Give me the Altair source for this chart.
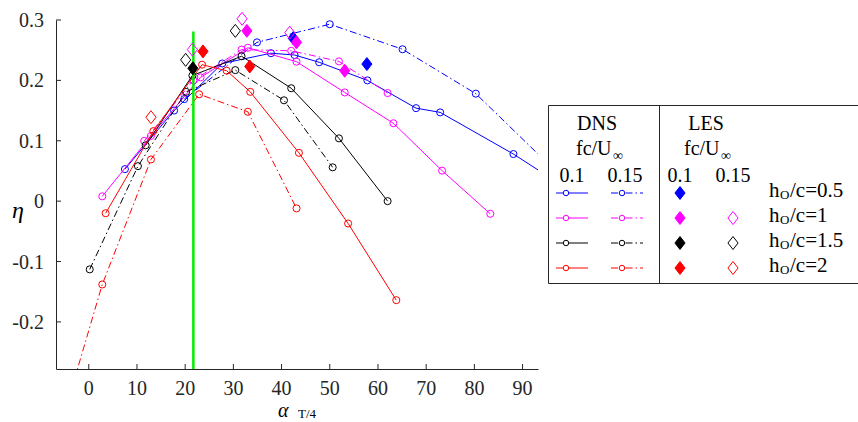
import altair as alt
import pandas as pd

FONT = "Liberation Serif"
INK = "#262626"

# Axis ranges and tick labels
X_DOMAIN = [-6.8, 93.2]
Y_DOMAIN = [-0.278, 0.3]
X_TICKS = [0, 10, 20, 30, 40, 50, 60, 70, 80, 90]
X_TICK_LABELS = ["0", "10", "20", "30", "40", "50", "60", "70", "80", "90"]
Y_TICKS = [-0.2, -0.1, 0.0, 0.1, 0.2, 0.3]
Y_TICK_LABELS = ["-0.2", "-0.1", "0", "0.1", "0.2", "0.3"]

# Reference angle marked by the vertical line
ALPHA_REF = 21.7
ALPHA_REF_ETA = [-0.278, 0.281]

# DNS efficiency vs. alpha_T/4 ; fc/U = 0.1 (solid) and 0.15 (dash-dot)
dns_h05_f010_alpha = [7.5, 17.7, 27.7, 37.8, 42.7, 47.8, 57.8, 67.9, 72.9, 88.1, 98.0]
dns_h05_f010_eta = [0.053, 0.150, 0.228, 0.245, 0.242, 0.230, 0.200, 0.154, 0.147, 0.078, 0.027]
dns_h05_f015_alpha = [19.8, 34.9, 50.0, 65.1, 80.3, 95.4]
dns_h05_f015_eta = [0.169, 0.263, 0.293, 0.2515, 0.178, 0.061]

dns_h10_f010_alpha = [2.8, 12.9, 23.2, 33.0, 43.1, 53.1, 63.2, 73.3, 83.3]
dns_h10_f010_eta = [0.008, 0.108, 0.205, 0.254, 0.231, 0.180, 0.129, 0.0505, -0.021]
dns_h10_f015_alpha = [11.5, 21.7, 31.7, 42.0, 51.9, 62.0]
dns_h10_f015_eta = [0.0997, 0.200, 0.251, 0.249, 0.2315, 0.179]

dns_h15_f010_alpha = [11.8, 21.5, 31.7, 42.0, 51.9, 62.0]
dns_h15_f010_eta = [0.0925, 0.208, 0.240, 0.187, 0.104, 0.000]
dns_h15_f015_alpha = [0.2, 10.2, 20.2, 30.4, 40.5, 50.6]
dns_h15_f015_eta = [-0.113, 0.058, 0.181, 0.217, 0.167, 0.056]

dns_h20_f010_alpha = [3.5, 13.4, 23.5, 28.6, 33.5, 43.6, 53.8, 63.8]
dns_h20_f010_eta = [-0.020, 0.116, 0.226, 0.216, 0.181, 0.080, -0.037, -0.164]
dns_h20_f015_alpha = [-7.2, 2.8, 12.9, 22.9, 33.0, 43.1]
dns_h20_f015_eta = [-0.41, -0.138, 0.069, 0.177, 0.148, -0.012]

# LES points: fc/U = 0.1 (filled) and 0.15 (open)
les_h05_f010_alpha = [42.4, 57.7]
les_h05_f010_eta = [0.270, 0.227]
les_h10_f010_alpha = [32.8, 43.1, 53.1]
les_h10_f010_eta = [0.282, 0.263, 0.216]
les_h10_f015_alpha = [21.5, 31.8, 41.7]
les_h10_f015_eta = [0.251, 0.302, 0.279]
les_h15_f010_alpha = [21.6]
les_h15_f010_eta = [0.220]
les_h15_f015_alpha = [20.1, 30.4]
les_h15_f015_eta = [0.234, 0.282]
les_h20_f010_alpha = [23.7, 33.4]
les_h20_f010_eta = [0.248, 0.223]
les_h20_f015_alpha = [12.9]
les_h20_f015_eta = [0.139]

H_LABELS = ["0.5", "1", "1.5", "2"]
COLORS = ["#0000ff", "#ff00ff", "#000000", "#ff0000"]

DNS = [
    (dns_h05_f010_alpha, dns_h05_f010_eta, dns_h05_f015_alpha, dns_h05_f015_eta),
    (dns_h10_f010_alpha, dns_h10_f010_eta, dns_h10_f015_alpha, dns_h10_f015_eta),
    (dns_h15_f010_alpha, dns_h15_f010_eta, dns_h15_f015_alpha, dns_h15_f015_eta),
    (dns_h20_f010_alpha, dns_h20_f010_eta, dns_h20_f015_alpha, dns_h20_f015_eta),
]
LES = [
    (les_h05_f010_alpha, les_h05_f010_eta, [], []),
    (les_h10_f010_alpha, les_h10_f010_eta, les_h10_f015_alpha, les_h10_f015_eta),
    (les_h15_f010_alpha, les_h15_f010_eta, les_h15_f015_alpha, les_h15_f015_eta),
    (les_h20_f010_alpha, les_h20_f010_eta, les_h20_f015_alpha, les_h20_f015_eta),
]

W, H = 482, 349
DASHDOT = [7, 3, 1.5, 3]
DIAMOND = "M0,-1L0.78,0L0,1L-0.78,0Z"

# Axes: only the spines come from Vega; ticks and labels are drawn as layers
x_axis = alt.Axis(values=X_TICKS, ticks=False, labels=False, grid=False, title=None,
                  domainColor=INK, domainWidth=1)
y_axis = alt.Axis(values=Y_TICKS, ticks=False, labels=False, grid=False, title=None,
                  domainColor=INK, domainWidth=1)
x_scale = alt.Scale(domain=X_DOMAIN, nice=False, zero=False)
y_scale = alt.Scale(domain=Y_DOMAIN, nice=False, zero=False)


def X(field="alpha"):
    return alt.X(f"{field}:Q", scale=x_scale, axis=x_axis)


def Y(field="eta"):
    return alt.Y(f"{field}:Q", scale=y_scale, axis=y_axis)


def frame(a, e):
    return pd.DataFrame({"alpha": a, "eta": e})


layers = []

# DNS curves with open circle markers
for color, (a1, e1, a2, e2) in zip(COLORS, DNS):
    for a, e, dash in ((a1, e1, None), (a2, e2, DASHDOT)):
        df = frame(a, e)
        line_kw = dict(color=color, strokeWidth=1, clip=True)
        if dash:
            line_kw["strokeDash"] = dash
        layers.append(alt.Chart(df).mark_line(**line_kw).encode(x=X(), y=Y()))
        layers.append(
            alt.Chart(df).mark_point(shape="circle", filled=False, color=color,
                                     size=50, strokeWidth=1, opacity=1, clip=True)
            .encode(x=X(), y=Y())
        )

# Reference angle
layers.append(
    alt.Chart(pd.DataFrame({"alpha": [ALPHA_REF], "eta": [ALPHA_REF_ETA[0]], "eta2": [ALPHA_REF_ETA[1]]}))
    .mark_rule(color="#00ee00", strokeWidth=2.5)
    .encode(x=X(), y=Y(), y2="eta2:Q")
)

# LES diamonds
for color, (a1, e1, a2, e2) in zip(COLORS, LES):
    if a1:
        layers.append(
            alt.Chart(frame(a1, e1)).mark_point(shape=DIAMOND, filled=True, fill=color,
                                                stroke=color, strokeWidth=1, size=169, opacity=1)
            .encode(x=X(), y=Y())
        )
    if a2:
        layers.append(
            alt.Chart(frame(a2, e2)).mark_point(shape=DIAMOND, filled=False, color=color,
                                                strokeWidth=1, size=169, opacity=1)
            .encode(x=X(), y=Y())
        )

# Inward tick marks
x_ticks_df = pd.DataFrame({"alpha": X_TICKS, "label": X_TICK_LABELS})
y_ticks_df = pd.DataFrame({"eta": Y_TICKS, "label": Y_TICK_LABELS})
layers.append(
    alt.Chart(x_ticks_df).mark_rule(color=INK, strokeWidth=1)
    .encode(x=X(), y=alt.value(H), y2=alt.value(H - 5))
)
layers.append(
    alt.Chart(y_ticks_df).mark_rule(color=INK, strokeWidth=1)
    .encode(y=Y(), x=alt.value(0), x2=alt.value(5))
)

# Tick labels
layers.append(
    alt.Chart(x_ticks_df).mark_text(font=FONT, fontSize=20, color=INK, align="center",
                                    baseline="alphabetic")
    .encode(x=X(), y=alt.value(H + 25.5), text="label:N")
)
layers.append(
    alt.Chart(y_ticks_df).mark_text(font=FONT, fontSize=20, color=INK, align="right",
                                    baseline="middle", dy=1)
    .encode(y=Y(), x=alt.value(-12), text="label:N")
)

one = pd.DataFrame({"k": [0]})


def text(s, x, y, size=20, align="left", style="normal", color="#000000"):
    return alt.Chart(one).mark_text(
        text=s, font=FONT, fontSize=size, align=align, baseline="alphabetic",
        fontStyle=style, color=color,
    ).encode(x=alt.value(x), y=alt.value(y))


# Axis titles
layers.append(text("\u03b1", 222, 397, size=20, style="italic"))
layers.append(text("T/4", 242, 397.5, size=13))
layers.append(text("\u03b7", -38, 198, size=24, style="italic", align="center"))

# Legend frame
layers.append(
    alt.Chart(one).mark_rect(fill="white", stroke=INK, strokeWidth=1)
    .encode(x=alt.value(492.5), x2=alt.value(815), y=alt.value(85.5), y2=alt.value(263.5))
)
layers.append(
    alt.Chart(one).mark_rule(color=INK, strokeWidth=1)
    .encode(x=alt.value(603.5), y=alt.value(85.5), y2=alt.value(263.5))
)

# Legend headings
layers.append(text("DNS", 541, 110, align="center"))
layers.append(text("fc/U", 520, 135))
layers.append(text("\u221e", 557, 140, size=14))
layers.append(text("0.1", 516, 162, align="center"))
layers.append(text("0.15", 569, 162, align="center"))
layers.append(text("LES", 650, 110, align="center"))
layers.append(text("fc/U", 628, 135))
layers.append(text("\u221e", 665, 140, size=14))
layers.append(text("0.1", 624, 162, align="center"))
layers.append(text("0.15", 677, 162, align="center"))

# Legend rows
ROW_Y = [173, 198, 223, 248]
for i, (color, h) in enumerate(zip(COLORS, H_LABELS)):
    ry = ROW_Y[i]
    layers.append(
        alt.Chart(one).mark_rule(color=color, strokeWidth=1)
        .encode(x=alt.value(500), x2=alt.value(532), y=alt.value(ry))
    )
    layers.append(
        alt.Chart(one).mark_rule(color=color, strokeWidth=1, strokeDash=DASHDOT)
        .encode(x=alt.value(555), x2=alt.value(587), y=alt.value(ry))
    )
    for cx in (510, 566):
        layers.append(
            alt.Chart(one).mark_point(shape="circle", filled=True, fill="white", stroke=color,
                                      strokeWidth=1, size=30, opacity=1)
            .encode(x=alt.value(cx), y=alt.value(ry))
        )
    layers.append(
        alt.Chart(one).mark_point(shape=DIAMOND, filled=True, fill=color, stroke=color,
                                  strokeWidth=1, size=169, opacity=1)
        .encode(x=alt.value(624), y=alt.value(ry))
    )
    if i > 0:
        layers.append(
            alt.Chart(one).mark_point(shape=DIAMOND, filled=False, color=color,
                                      strokeWidth=1, size=169, opacity=1)
            .encode(x=alt.value(677), y=alt.value(ry))
        )
    layers.append(text("h", 713, ry + 4, size=21))
    layers.append(text("O", 724, ry + 6, size=13))
    layers.append(text("/c=" + h, 734, ry + 4, size=21))

chart = (
    alt.layer(*layers)
    .properties(
        width=W, height=H,
        autosize=alt.AutoSizeParams(type="none"),
        padding={"left": 56, "top": 20, "right": 320, "bottom": 53},
        background="white",
    )
    .configure_view(stroke="transparent")
)

chart.save("out.html", embed_options={"renderer": "svg", "actions": False})
